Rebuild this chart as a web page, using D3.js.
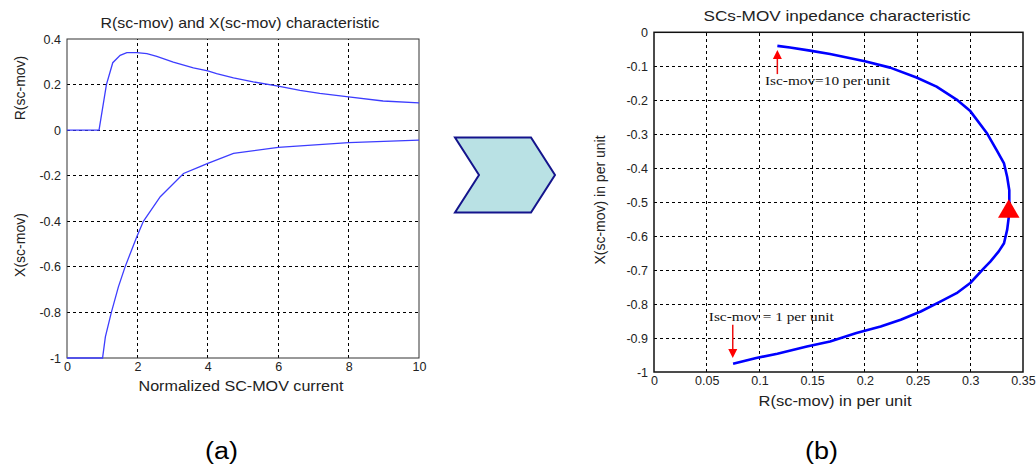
<!DOCTYPE html>
<html><head><meta charset="utf-8">
<script src="https://cdn.jsdelivr.net/npm/d3@7"></script>
<style>html,body{margin:0;padding:0;background:#fff}svg{display:block}</style>
</head><body>
<script>
// ---------- data: panel (a) ----------
const rCurrent = [0, 0.91, 1.12, 1.30, 1.51, 1.70, 1.98, 2.27, 2.55, 3.02, 3.59, 4.0, 4.25, 4.73, 5.29, 6.0, 6.62, 7.18, 8.0, 8.98, 10];
const rValues  = [0, 0, 0.2, 0.296, 0.328, 0.340, 0.340, 0.336, 0.324, 0.299, 0.273, 0.26, 0.248, 0.229, 0.212, 0.193, 0.175, 0.161, 0.146, 0.128, 0.12];
const xCurrent = [0, 1.0, 1.01, 1.09, 1.26, 1.46, 1.65, 1.98, 2.17, 2.65, 3.31, 3.78, 4.0, 4.73, 6.0, 8.0, 10];
const xValues  = [-1, -1, -1, -0.907, -0.8, -0.688, -0.6, -0.469, -0.4, -0.292, -0.19, -0.16, -0.146, -0.102, -0.076, -0.055, -0.044];
const leftXTicks = [0, 2, 4, 6, 8, 10];
const leftYTicks = [-1, -0.8, -0.6, -0.4, -0.2, 0, 0.2, 0.4];

// ---------- data: panel (b) ----------
const impR = [0.075, 0.097, 0.117, 0.145, 0.167, 0.192, 0.215, 0.234, 0.253, 0.272, 0.287, 0.300, 0.313, 0.319, 0.327, 0.332, 0.335, 0.337, 0.337, 0.335, 0.332, 0.325, 0.316, 0.300, 0.287, 0.268, 0.249, 0.224, 0.200, 0.167, 0.148, 0.129, 0.117];
const impX = [-0.976, -0.959, -0.946, -0.925, -0.910, -0.885, -0.866, -0.846, -0.822, -0.792, -0.768, -0.738, -0.694, -0.675, -0.645, -0.621, -0.581, -0.532, -0.465, -0.426, -0.386, -0.347, -0.298, -0.232, -0.198, -0.160, -0.133, -0.104, -0.085, -0.064, -0.054, -0.045, -0.040];
const rightXTicks = [0, 0.05, 0.1, 0.15, 0.2, 0.25, 0.3, 0.35];
const rightYTicks = [-1, -0.9, -0.8, -0.7, -0.6, -0.5, -0.4, -0.3, -0.2, -0.1, 0];
const markerPoint = [0.3365, -0.528];
const annotLabels = ["Isc-mov=10 per unit", "Isc-mov = 1 per unit"];
const annotTail = [[0.117, -0.123], [0.0747, -0.861]];
const annotTip  = [[0.117, -0.052], [0.0747, -0.959]];
const annotText = [[0.1053, -0.155], [0.052, -0.849]];

const W = 1036, H = 465;
const svg = d3.select("body").append("svg").attr("width", W).attr("height", H)
  .style("font-family", "Arial, 'Liberation Sans', Helvetica, sans-serif");

const fmt = d => String(+d.toFixed(2));

function panel(opts) {
  const {x, y, xTicks, yTicks, frameColor, frameWidth, tickSize} = opts;
  const g = svg.append("g");
  const [x0, x1] = x.range(), [y0, y1] = y.range();
  // grid
  g.append("g").selectAll("line").data(xTicks.slice(1, -1)).join("line")
    .attr("x1", d => x(d)).attr("x2", d => x(d)).attr("y1", y0).attr("y2", y1)
    .attr("stroke", "#000").attr("stroke-width", 1).attr("stroke-dasharray", "3,3").attr("shape-rendering", "crispEdges");
  g.append("g").selectAll("line").data(yTicks.slice(1, -1)).join("line")
    .attr("y1", d => y(d)).attr("y2", d => y(d)).attr("x1", x0).attr("x2", x1)
    .attr("stroke", "#000").attr("stroke-width", 1).attr("stroke-dasharray", "3,3").attr("shape-rendering", "crispEdges");
  // axes labels using d3 axes
  const ax = g.append("g").attr("transform", `translate(0,${y0})`)
    .call(d3.axisBottom(x).tickValues(xTicks).tickFormat(fmt).tickSize(0).tickPadding(4));
  ax.select(".domain").remove();
  ax.selectAll("text").attr("font-size", tickSize).attr("fill", "#222").attr("font-family", null);
  const ay = g.append("g").attr("transform", `translate(${x0},0)`)
    .call(d3.axisLeft(y).tickValues(yTicks).tickFormat(fmt).tickSize(0).tickPadding(6));
  ay.select(".domain").remove();
  ay.selectAll("text").attr("font-size", tickSize).attr("fill", "#222").attr("font-family", null);
  // frame
  g.append("rect").attr("x", x0).attr("y", y1).attr("width", x1 - x0).attr("height", y0 - y1)
    .attr("fill", "none").attr("stroke", frameColor).attr("stroke-width", frameWidth);
  return g;
}

// ---------- panel (a) ----------
const xL = d3.scaleLinear().domain([0, 10]).range([67, 419]);
const yL = d3.scaleLinear().domain([-1, 0.4]).range([358, 39]);
const gA = panel({x: xL, y: yL, xTicks: leftXTicks, yTicks: leftYTicks, frameColor: "#333", frameWidth: 1, tickSize: 12.5});
const lineA = d3.line().x(d => xL(d[0])).y(d => yL(d[1]));
gA.append("path").datum(d3.zip(rCurrent, rValues)).attr("d", lineA)
  .attr("fill", "none").attr("stroke", "#3d3dff").attr("stroke-width", 1.3);
gA.append("path").datum(d3.zip(xCurrent, xValues)).attr("d", lineA)
  .attr("fill", "none").attr("stroke", "#3d3dff").attr("stroke-width", 1.3);

svg.append("text").attr("x", 240).attr("y", 28).attr("text-anchor", "middle")
  .attr("font-size", 15).attr("fill", "#222").attr("textLength", 279).attr("lengthAdjust", "spacingAndGlyphs")
  .text("R(sc-mov) and X(sc-mov) characteristic");
svg.append("text").attr("x", 241).attr("y", 390.5).attr("text-anchor", "middle")
  .attr("font-size", 14).attr("fill", "#222").attr("textLength", 205).attr("lengthAdjust", "spacingAndGlyphs")
  .text("Normalized SC-MOV current");
svg.append("text").attr("transform", "translate(25,88) rotate(-90)").attr("text-anchor", "middle")
  .attr("font-size", 14).attr("fill", "#222").text("R(sc-mov)");
svg.append("text").attr("transform", "translate(25,245) rotate(-90)").attr("text-anchor", "middle")
  .attr("font-size", 14).attr("fill", "#222").text("X(sc-mov)");

// ---------- panel (b) ----------
const xR = d3.scaleLinear().domain([0, 0.35]).range([654, 1023]);
const yR = d3.scaleLinear().domain([-1, 0]).range([372, 32.3]);
const gB = panel({x: xR, y: yR, xTicks: rightXTicks, yTicks: rightYTicks, frameColor: "#111", frameWidth: 1.5, tickSize: 12.5});
const lineB = d3.line().x(d => xR(d[0])).y(d => yR(d[1]));
gB.append("path").datum(d3.zip(impR, impX)).attr("d", lineB)
  .attr("fill", "none").attr("stroke", "#0000ff").attr("stroke-width", 2.6).attr("stroke-linejoin", "round");
gB.append("path").attr("d", d3.symbol(d3.symbolTriangle, 200)())
  .attr("transform", `translate(${xR(markerPoint[0])},${yR(markerPoint[1])})`).attr("fill", "#ff0000");

// arrows + annotation labels
annotLabels.forEach((lab, i) => {
  const [tx, ty] = [xR(annotTail[i][0]), yR(annotTail[i][1])];
  const [hx, hy] = [xR(annotTip[i][0]), yR(annotTip[i][1])];
  const dir = Math.sign(hy - ty);
  const headLen = 9, headW = 4.5;
  gB.append("line").attr("x1", tx).attr("y1", ty).attr("x2", hx).attr("y2", hy - dir * headLen)
    .attr("stroke", "#ee1111").attr("stroke-width", 1.5);
  gB.append("path").attr("d", `M${hx},${hy}L${hx - headW},${hy - dir * headLen}L${hx + headW},${hy - dir * headLen}Z`)
    .attr("fill", "#ff0000");
  gB.append("text").attr("x", xR(annotText[i][0])).attr("y", yR(annotText[i][1]))
    .attr("font-family", "'Liberation Serif', 'Times New Roman', serif").attr("font-size", 13)
    .attr("fill", "#111").attr("textLength", 125).attr("lengthAdjust", "spacingAndGlyphs").text(lab);
});

svg.append("text").attr("x", 837).attr("y", 21).attr("text-anchor", "middle")
  .attr("font-size", 15).attr("fill", "#222").attr("textLength", 267).attr("lengthAdjust", "spacingAndGlyphs")
  .text("SCs-MOV inpedance characteristic");
svg.append("text").attr("x", 835).attr("y", 406).attr("text-anchor", "middle")
  .attr("font-size", 14).attr("fill", "#222").attr("textLength", 153).attr("lengthAdjust", "spacingAndGlyphs")
  .text("R(sc-mov) in per unit");
svg.append("text").attr("transform", "translate(605,200) rotate(-90)").attr("text-anchor", "middle")
  .attr("font-size", 14).attr("fill", "#222").text("X(sc-mov) in per unit");

// ---------- chevron arrow between panels ----------
const chev = {cx: 505, cy: 175, w: 100, h: 75, notch: 24};
const chevPts = [
  [chev.cx - chev.w / 2, chev.cy - chev.h / 2],
  [chev.cx + chev.w / 2 - chev.notch, chev.cy - chev.h / 2],
  [chev.cx + chev.w / 2, chev.cy],
  [chev.cx + chev.w / 2 - chev.notch, chev.cy + chev.h / 2],
  [chev.cx - chev.w / 2, chev.cy + chev.h / 2],
  [chev.cx - chev.w / 2 + chev.notch, chev.cy]
];
svg.append("polygon").attr("points", chevPts.map(p => p.join(",")).join(" "))
  .attr("fill", "#b9e1e4").attr("stroke", "#14148c").attr("stroke-width", 2).attr("stroke-linejoin", "miter");

// ---------- captions ----------
svg.append("text").attr("x", 221.5).attr("y", 459).attr("text-anchor", "middle")
  .attr("font-size", 23).attr("fill", "#000").attr("textLength", 33).attr("lengthAdjust", "spacingAndGlyphs").text("(a)");
svg.append("text").attr("x", 821.5).attr("y", 459).attr("text-anchor", "middle")
  .attr("font-size", 23).attr("fill", "#000").attr("textLength", 33).attr("lengthAdjust", "spacingAndGlyphs").text("(b)");
</script>
</body></html>
